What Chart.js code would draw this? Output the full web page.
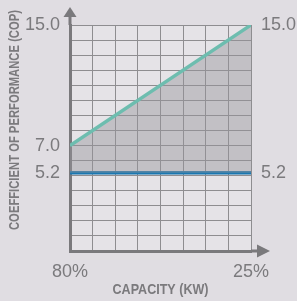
<!DOCTYPE html>
<html>
<head>
<meta charset="utf-8">
<script src="https://cdn.jsdelivr.net/npm/chart.js@4"></script>
<style>
  html, body { margin: 0; padding: 0; background: #e0dde2; }
  #wrap { width: 297px; height: 301px; }
</style>
</head>
<body>
<div id="wrap"><canvas id="copChart" width="297" height="301"></canvas></div>
<script>
// capacity end points (left / right of the chart)
var capacityLabels = ['80%', '25%'];
var capacityPos = [0, 8];
// coefficient of performance at each end
var copVariable = [7.0, 15.0];
var copFixed = [5.2, 5.2];
// labelled ticks
var leftTickLabels = [15.0, 7.0, 5.2];
var rightTickLabels = [15.0, 5.2];

var axisGrey = '#7a797c';
var textGrey = '#7b7a7d';
var titleFont = 'bold 15px "Liberation Sans", Arial, sans-serif';

// draw condensed bold text squeezed to a given width
function narrowText(ctx, text, x, y, rot, width) {
    ctx.save();
    ctx.font = titleFont;
    ctx.fillStyle = textGrey;
    ctx.textAlign = 'center';
    ctx.textBaseline = 'middle';
    ctx.translate(x, y);
    ctx.rotate(rot);
    var w = ctx.measureText(text).width;
    ctx.scale(Math.min(1, width / w), 1);
    ctx.fillText(text, 0, 0);
    ctx.restore();
}

// arrows on the axes + axis titles
var axisDeco = {
    id: 'axisDeco',
    beforeDraw: function (chart) {
        var ctx = chart.ctx, a = chart.chartArea;
        ctx.save();
        ctx.fillStyle = '#e5e3e7';
        ctx.fillRect(a.left, a.top, a.right - a.left, a.bottom - a.top);
        ctx.restore();
    },
    afterDraw: function (chart) {
        var ctx = chart.ctx, a = chart.chartArea;
        ctx.save();
        ctx.strokeStyle = axisGrey;
        ctx.fillStyle = axisGrey;
        ctx.lineWidth = 3;
        ctx.beginPath();
        ctx.moveTo(a.left, a.top);
        ctx.lineTo(a.left, a.top - 9);
        ctx.moveTo(a.right, a.bottom);
        ctx.lineTo(a.right + 8, a.bottom);
        ctx.stroke();
        ctx.beginPath();
        ctx.moveTo(a.left - 6.5, a.top - 8);
        ctx.lineTo(a.left + 6.5, a.top - 8);
        ctx.lineTo(a.left, a.top - 18);
        ctx.closePath();
        ctx.fill();
        ctx.beginPath();
        ctx.moveTo(a.right + 6, a.bottom - 6.5);
        ctx.lineTo(a.right + 6, a.bottom + 6.5);
        ctx.lineTo(a.right + 19, a.bottom);
        ctx.closePath();
        ctx.fill();
        ctx.restore();

        narrowText(ctx, 'COEFFICIENT OF PERFORMANCE (COP)', 15, 120, -Math.PI / 2, 220);
        narrowText(ctx, 'CAPACITY (KW)', (a.left + a.right) / 2, 290, 0, 96);
    }
};

var tickFont = { family: '"Liberation Sans", Arial, sans-serif', size: 18 };

var copChart = new Chart(document.getElementById('copChart'), {
    type: 'line',
    data: {
        datasets: [{
            label: 'Variable',
            data: capacityPos.map(function (x, i) { return { x: x, y: copVariable[i] }; }),
            borderColor: '#6dbdaf',
            borderWidth: 3.5,
            pointRadius: 0,
            fill: '+1',
            backgroundColor: 'rgba(150, 148, 156, 0.45)'
        }, {
            label: 'Fixed',
            data: capacityPos.map(function (x, i) { return { x: x, y: copFixed[i] }; }),
            borderColor: '#1a77b0',
            borderWidth: 3.5,
            pointRadius: 0,
            fill: false
        }]
    },
    options: {
        responsive: false,
        animation: false,
        layout: { padding: { top: 25, left: 0, right: 0, bottom: 0 } },
        plugins: {
            legend: { display: false },
            tooltip: { enabled: false }
        },
        scales: {
            x: {
                type: 'linear',
                min: capacityPos[0],
                max: capacityPos[1],
                afterBuildTicks: function (scale) {
                    var t = [];
                    for (var v = scale.min; v <= scale.max; v++) t.push({ value: v });
                    scale.ticks = t;
                },
                afterFit: function (scale) { scale.height = 50; },
                grid: { color: '#8e8d90', lineWidth: 1, drawTicks: false },
                border: { color: axisGrey, width: 3 },
                ticks: {
                    autoSkip: false,
                    maxRotation: 0,
                    padding: 10,
                    color: textGrey,
                    font: tickFont,
                    callback: function (v) {
                        var i = capacityPos.indexOf(v);
                        return i >= 0 ? capacityLabels[i] : '';
                    }
                }
            },
            y: {
                position: 'left',
                min: 0,
                max: 15,
                afterBuildTicks: function (scale) {
                    var t = [];
                    for (var v = 0; v <= 15; v++) t.push({ value: v });
                    leftTickLabels.forEach(function (l) {
                        if (l % 1 !== 0) t.push({ value: l });
                    });
                    t.sort(function (p, q) { return p.value - q.value; });
                    scale.ticks = t;
                },
                afterFit: function (scale) { scale.width = 70; },
                grid: {
                    drawTicks: false,
                    lineWidth: 1,
                    color: function (c) {
                        return c.tick && c.tick.value % 1 !== 0 ? 'rgba(0,0,0,0)' : '#8e8d90';
                    }
                },
                border: { color: axisGrey, width: 3 },
                ticks: {
                    autoSkip: false,
                    padding: 10,
                    color: textGrey,
                    font: tickFont,
                    callback: function (v) {
                        return leftTickLabels.indexOf(v) >= 0 ? v.toFixed(1) : '';
                    }
                }
            },
            yr: {
                position: 'right',
                min: 0,
                max: 15,
                afterBuildTicks: function (scale) {
                    scale.ticks = rightTickLabels.slice().sort(function (p, q) { return p - q; })
                        .map(function (v) { return { value: v }; });
                },
                afterFit: function (scale) { scale.width = 46; },
                grid: { display: false, drawTicks: false },
                border: { display: false },
                ticks: {
                    autoSkip: false,
                    padding: 10,
                    color: textGrey,
                    font: tickFont,
                    callback: function (v) { return v.toFixed(1); }
                }
            }
        }
    },
    plugins: [axisDeco]
});
</script>
</body>
</html>
